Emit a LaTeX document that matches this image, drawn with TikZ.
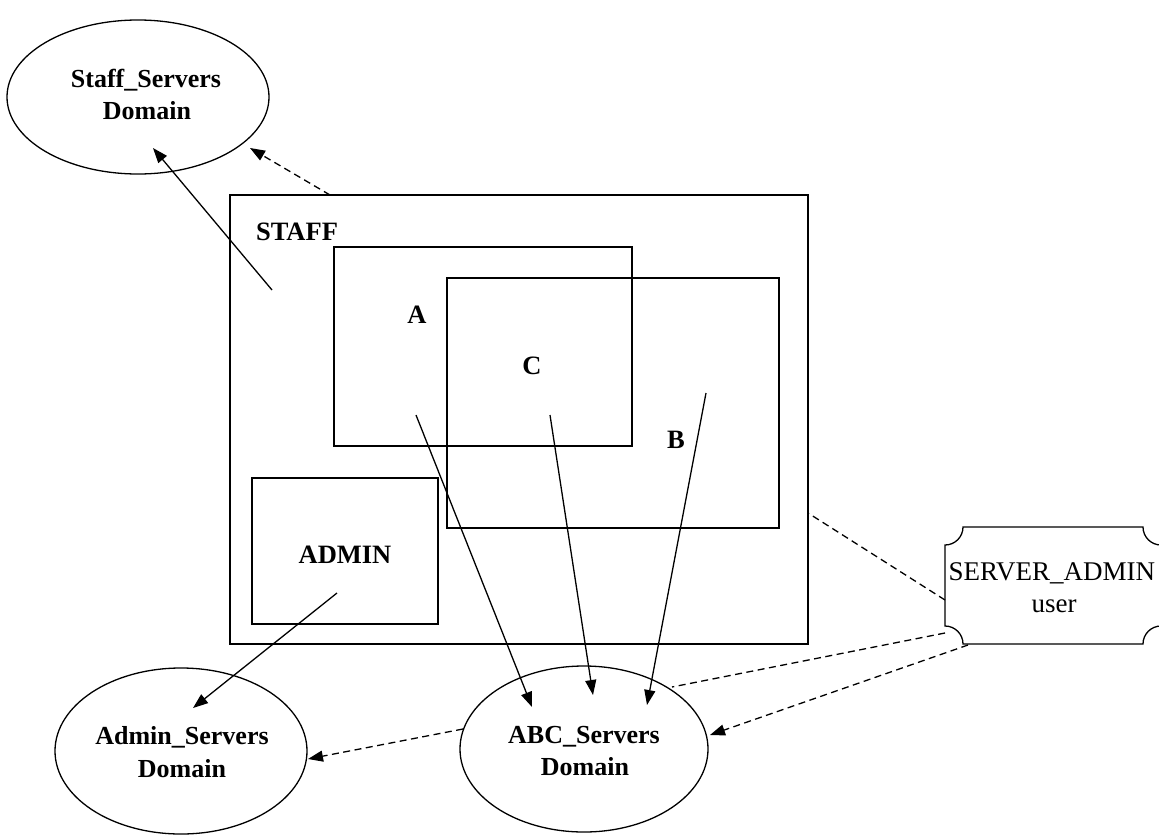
\documentclass[tikz,border=0pt]{standalone}
\usepackage{fontspec}
\setmainfont{Liberation Serif}
\usetikzlibrary{shapes.geometric,arrows.meta}
\begin{document}
\begin{tikzpicture}[x=1pt,y=-1pt,
  line width=1.3pt,
  boxnode/.style={draw,rectangle,inner sep=0pt},
  ellnode/.style={draw,ellipse,inner sep=0pt},
  bigbold/.style={font=\fontsize{26.5}{32}\selectfont\bfseries,anchor=base,inner sep=0pt},
  elltext/.style={font=\fontsize{26}{32}\selectfont\bfseries,anchor=base,inner sep=0pt},
  plaintext/.style={font=\fontsize{27}{32}\selectfont,inner sep=0pt},
  arr/.style={-{Triangle[length=15pt,width=11pt]}},
  dashline/.style={dash pattern=on 7pt off 4.5pt},
]
\useasboundingbox (0,0) rectangle (1159,835);
\clip (0,0) rectangle (1159,835);

% ellipses
\node[ellnode,minimum width=262pt,minimum height=154pt] (staffdom) at (138,97) {};
\node[ellnode,minimum width=252pt,minimum height=166pt] (admindom) at (181,751) {};
\node[ellnode,minimum width=248pt,minimum height=166pt] (abcdom) at (584,749) {};

\node[elltext] (t1) at (146,87) {Staff\_Servers};
\node[elltext] (t2) at (147,119) {Domain};
\node[elltext] (t3) at (182,744) {Admin\_Servers};
\node[elltext] (t4) at (182,777) {Domain};
\node[elltext] (t5) at (584,743) {ABC\_Servers};
\node[elltext] (t6) at (585,775) {Domain};

% boxes
\node[boxnode,minimum width=578pt,minimum height=449pt] (staff) at (519,419.5) {};
\node[boxnode,minimum width=298pt,minimum height=199pt] (boxa) at (483,346.5) {};
\node[boxnode,minimum width=332pt,minimum height=250pt] (boxb) at (613,403) {};
\node[boxnode,minimum width=186pt,minimum height=146pt] (admin) at (345,551) {};

\node[bigbold] (lstaff) at (297,240) {STAFF};
\node[bigbold] (la) at (417,323) {A};
\node[bigbold] (lc) at (532,374) {C};
\node[bigbold] (lb) at (676,448) {B};
\node[bigbold] (ladmin) at (345,563) {ADMIN};

% SERVER_ADMIN user shape
\node[rectangle,minimum width=216pt,minimum height=117pt,inner sep=0pt] (srv) at (1053,585.5) {};
\draw (945,545) -- (945,626)
  arc[start angle=-90,end angle=0,radius=18] -- (1143,644)
  arc[start angle=180,end angle=270,radius=18] -- (1161,545)
  arc[start angle=90,end angle=180,radius=18] -- (963,527)
  arc[start angle=0,end angle=90,radius=18] -- cycle;
\node[plaintext,anchor=base west] (lsrv1) at (948,580) {SERVER\_ADMIN};
\node[plaintext,anchor=base] (lsrv2) at (1054,612) {user};

% connector end points
\coordinate (s1) at (272,290);
\coordinate (e1) at (153,148);
\coordinate (s2) at (330,195);
\coordinate (e2) at (250,148);
\coordinate (s3) at (337,593);
\coordinate (e3) at (193,708);
\coordinate (sa) at (416,415);
\coordinate (ea) at (532,707);
\coordinate (sc) at (550,415);
\coordinate (ec) at (593,695);
\coordinate (sb) at (706,393);
\coordinate (eb) at (647,705);
\coordinate (r1) at (945,600);
\coordinate (r1e) at (808,513);
\coordinate (r2) at (945,633);
\coordinate (r2e) at (672,687);
\coordinate (r3) at (968,645);
\coordinate (r3e) at (710,735);
\coordinate (q1) at (463,729);
\coordinate (q1e) at (308,759);

% solid arrows
\draw[arr] (s1) -- (e1);
\draw[arr] (s3) -- (e3);
\draw[arr] (sa) -- (ea);
\draw[arr] (sc) -- (ec);
\draw[arr] (sb) -- (eb);

% dashed
\draw[arr,dashline] (s2) -- (e2);
\draw[dashline] (r1) -- (r1e);
\draw[dashline] (r2) -- (r2e);
\draw[arr,dashline] (r3) -- (r3e);
\draw[arr,dashline] (q1) -- (q1e);
\end{tikzpicture}
\end{document}
